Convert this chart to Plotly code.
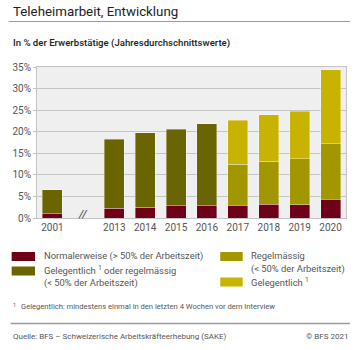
import plotly.graph_objects as go

years = ["2001", "2013", "2014", "2015", "2016", "2017", "2018", "2019", "2020"]
xpos = [0, 2, 3, 4, 5, 6, 7, 8, 9]

normal = [1.0, 2.3, 2.5, 2.8, 2.8, 3.0, 3.2, 3.1, 4.4]
gel_oder_reg = [5.5, 15.9, 17.3, 17.8, 19.0, None, None, None, None]
regelm = [None, None, None, None, None, 9.5, 10.0, 10.6, 12.8]
gelegentlich = [None, None, None, None, None, 10.2, 10.7, 11.0, 17.2]

yticks = [0, 5, 10, 15, 20, 25, 30, 35]
ytext = ["0%", "5%", "10%", "15%", "20%", "25%", "30%", "35%"]

c_red = "#6e0018"
c_dark = "#6a6500"
c_reg = "#a39700"
c_gel = "#c8b400"

series = [
    ("Normalerweise (> 50% der Arbeitszeit)", normal, c_red),
    ("Gelegentlich oder regelmässig (< 50% der Arbeitszeit)", gel_oder_reg, c_dark),
    ("Regelmässig (< 50% der Arbeitszeit)", regelm, c_reg),
    ("Gelegentlich", gelegentlich, c_gel),
]

fig = go.Figure()
for name, vals, col in series:
    fig.add_trace(go.Bar(
        x=xpos, y=vals, name=name, marker_color=col,
        marker_line_color="rgba(255,255,255,0.6)", marker_line_width=0.6,
        width=0.65, showlegend=False, hoverinfo="skip"))

FONT = "Roboto"
L, R, T, B = 29, 14, 67, 132
W, H = 360.0, 350.0
PW = W - L - R
PH = H - T - B

fig.update_layout(
    barmode="stack",
    width=360, height=350,
    margin=dict(l=L, r=R, t=T, b=B),
    paper_bgcolor="white",
    plot_bgcolor="#efefef",
    font=dict(family=FONT, color="#555555", size=10),
    xaxis=dict(range=[-0.5, 9.5], tickvals=xpos, ticktext=years,
               showgrid=False, showline=True, linecolor="#c4c4c4", linewidth=1,
               mirror=True, ticks="", tickfont=dict(size=10, color="#555555"),
               zeroline=False),
    yaxis=dict(range=[0, 35], tickvals=yticks, ticktext=ytext,
               showgrid=True, gridcolor="#c4c4c4", gridwidth=1,
               showline=True, linecolor="#c4c4c4", linewidth=1, mirror=True,
               ticks="outside", ticklen=3, tickcolor="#c4c4c4",
               tickfont=dict(size=10, color="#555555"), zeroline=False),
)

# "//" break marker
fig.add_annotation(x=1, y=0, xref="x", yref="y", text="<i>//</i>", showarrow=False,
                   font=dict(size=11, color="#333333", family=FONT),
                   yshift=4, xshift=-1)

def px(x):
    return (x - L) / PW
def py(y):
    return (H - B - y) / PH

def text(x, y, t, size, color="#555555", anchor="left", family=FONT):
    fig.add_annotation(x=px(x), y=py(y), xref="paper", yref="paper", xanchor=anchor, yanchor="middle",
                       text=t, showarrow=False, align="left",
                       font=dict(size=size, color=color, family=family))

def hline(x0, x1, y, col, w):
    fig.add_shape(type="line", xref="paper", yref="paper", x0=px(x0), x1=px(x1), y0=py(y), y1=py(y),
                  line=dict(color=col, width=w))

def swatch(x0, y0, x1, y1, col):
    fig.add_shape(type="rect", xref="paper", yref="paper", x0=px(x0), x1=px(x1), y0=py(y1), y1=py(y0),
                  fillcolor=col, line=dict(width=0))

# Title
text(2, 11, "Teleheimarbeit, Entwicklung", 13.3, color="#222222")
hline(0, 350, 21.5, "#9a9a9a", 1)
text(2, 43, "In % der Erwerbstätige (Jahresdurchschnittswerte)", 9.6, color="#222222",
     family="Roboto Medium, Roboto")

# Legend
LS = 9.4
swatch(3, 252, 27, 261, c_red)
text(34, 256, "Normalerweise (> 50% der Arbeitszeit)", LS)
swatch(3, 266.5, 27, 275.5, c_dark)
text(34, 270, "Gelegentlich <sup>1</sup> oder regelmässig", LS)
text(34, 283, "(< 50% der Arbeitszeit)", LS)
swatch(217, 252, 240, 261, c_reg)
text(246, 255.5, "Regelmässig", LS)
text(246, 268.5, "(< 50% der Arbeitszeit)", LS)
swatch(217, 277.5, 240, 286.5, c_gel)
text(246, 282, "Gelegentlich <sup>1</sup>", LS)

# Footnote
text(2, 305, "<sup>1</sup>", 8)
text(11, 306, "Gelegentlich: mindestens einmal in den letzten 4 Wochen vor dem Interview", 7.6)
hline(2, 350, 323.5, "#9a9a9a", 1.5)
text(2, 336.5, "Quelle: BFS – Schweizerische Arbeitskräfteerhebung (SAKE)", 8)
text(350, 336.5, "© BFS 2021", 8, anchor="right")

fig.write_html("out.html")
